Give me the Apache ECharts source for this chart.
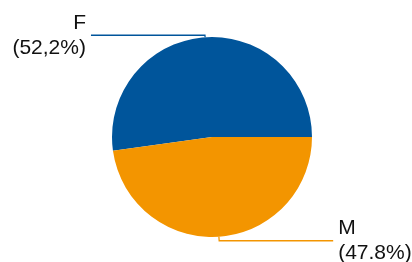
<!DOCTYPE html>
<html>
<head>
<meta charset="utf-8">
<script src="https://cdn.jsdelivr.net/npm/echarts@6/dist/echarts.min.js"></script>
<style>
html,body{margin:0;padding:0;background:#fff;}
#main{width:412px;height:262px;}
</style>
</head>
<body>
<div id="main"></div>
<script>
var names = ['F', 'M'];
var values = [52.2, 47.8];
var pctLabels = ['(52,2%)', '(47.8%)'];
var colors = ['#00559b', '#f39500'];

window.onload = function () {
	var myChart = echarts.init(document.getElementById('main'));
	var data = [];
	for (var i = 0; i < names.length; i++) {
		data.push({
			name: names[i],
			value: values[i],
			itemStyle: { color: colors[i] },
			labelLine: { length: (i == 0 ? 2 : 4), length2: (i == 0 ? 114 : 114), lineStyle: { color: colors[i], width: 1.3 } }
		});
	}
	myChart.setOption({
		animation: false,
		series: [{
			type: 'pie',
			center: [212, 137],
			radius: 100,
			startAngle: 0,
			clockwise: false,
			data: data,
			label: {
				show: true,
				overflow: 'none',
				fontFamily: 'Liberation Sans, Arial, sans-serif',
				fontSize: 21,
				lineHeight: 25,
				color: '#111',
				formatter: function (p) {
					return p.name + '\n' + pctLabels[p.dataIndex];
				}
			},
			labelLine: { show: true, smooth: false },
			emphasis: { disabled: true }
		}]
	});
};
</script>
</body>
</html>
